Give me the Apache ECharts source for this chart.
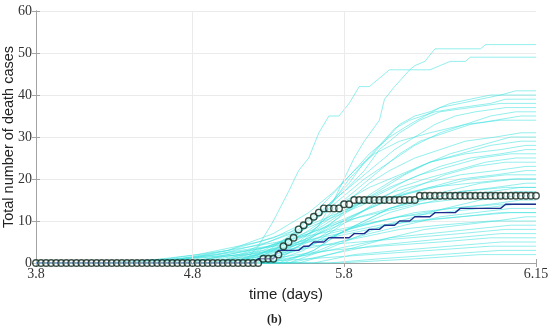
<!DOCTYPE html>
<html>
<head>
<meta charset="utf-8">
<script src="https://cdn.jsdelivr.net/npm/echarts@6/dist/echarts.min.js"></script>
<style>
html,body{margin:0;padding:0;background:#fff;}
#chart{width:550px;height:326px;}
</style>
</head>
<body>
<div id="chart"></div>
<script>
// x axis: day index counted from 3.8 (March 8); ticks at dates
const tickDays = [0, 31, 61, 99];
const tickLabels = ['3.8', '4.8', '5.8', '6.15'];
const gridDays = [31, 61];
const yTicks = [0, 10, 20, 30, 40, 50, 60];

// observed cumulative deaths (one value per day, days 0..99)
const observed = [
  0,0,0,0,0,0,0,0,0,0,
  0,0,0,0,0,0,0,0,0,0,
  0,0,0,0,0,0,0,0,0,0,
  0,0,0,0,0,0,0,0,0,0,
  0,0,0,0,0,1,1,1,2,4,
  5,6,8,9,10,11,12,13,13,13,
  13,14,14,15,15,15,15,15,15,15,
  15,15,15,15,15,15,16,16,16,16,
  16,16,16,16,16,16,16,16,16,16,
  16,16,16,16,16,16,16,16,16,16
];

// dark blue simulated trajectory (one value per day)
const highlightedRun = [
  0,0,0,0,0,0,0,0,0,0,
  0,0,0,0,0,0,0,0,0,0,
  0,0,0,0,0,0,0,0,0,0,
  0,0,0,0,0,0,0,0,0,0,
  0,0,0,0,1,1,1,1,3,3,
  3,3,3,4,4,5,5,5,6,6,
  6,6,6,7,7,7,8,8,8,9,
  9,9,10,10,10,11,11,11,11,12,
  12,12,12,12,13,13,13,13,13,13,
  13,13,13,14,14,14,14,14,14,14
];

// cyan simulated trajectories, as [day, deaths] points
const simRuns = [
  [[0,0],[41,0],[44,4],[47,10],[50,17],[52,22],[54,25],[56,31],[58,35],[60,35],[62,38],[64,42],[66,42],[68,44],[70,46],[74,46],[75,47],[77,48],[79,51],[88,51],[89,52],[99,52]],
  [[0,0],[47,0],[52,4],[56,9],[59,15],[61,20],[63,25],[65,29],[68,34],[69,39],[71,42],[74,46],[78,46],[80,47],[82,48],[85,48],[86,49],[99,49]],
  [[0,0],[38,0],[46,3],[52,8],[56,13],[60,18],[63,22],[66,26],[70,30],[74,33],[77,35],[80,37],[84,38],[88,39],[92,40],[95,41],[99,41]],
  [[0,0],[35,0],[44,3],[50,6],[55,10],[59,15],[62,20],[66,25],[69,29],[72,33],[75,35],[78,36],[82,38],[86,39],[90,40],[99,40]],
  [[0,0],[40,0],[48,4],[54,9],[58,14],[62,19],[65,24],[68,28],[71,32],[74,34],[79,36],[84,37],[90,38],[93,39],[99,39]],
  [[0,0],[30,0],[42,3],[50,7],[56,12],[61,17],[65,22],[68,27],[72,31],[76,34],[80,36],[86,37],[92,38],[99,38]],
  [[0,0],[42,0],[50,5],[55,10],[60,16],[64,20],[67,23],[71,27],[75,30],[79,33],[83,35],[87,36],[93,37],[99,37]],
  [[0,0],[36,0],[45,3],[52,7],[57,12],[61,16],[65,20],[70,24],[75,28],[80,31],[85,33],[90,35],[95,36],[99,36]],
  [[0,0],[44,0],[51,4],[56,9],[60,14],[64,18],[68,22],[72,26],[76,29],[81,31],[86,33],[91,34],[96,35],[99,35]],
  [[0,0],[26,0],[38,3],[47,7],[54,12],[59,17],[63,22],[67,26],[72,29],[78,31],[85,33],[92,34],[99,34]],
  [[0,0],[38,0],[47,3],[53,7],[58,11],[62,15],[66,19],[70,22],[75,25],[80,27],[85,29],[91,30],[96,31],[99,31]],
  [[0,0],[33,0],[44,2],[51,5],[57,9],[62,13],[67,17],[71,20],[76,23],[82,26],[88,28],[94,30],[99,30]],
  [[0,0],[45,0],[52,4],[57,8],[61,12],[65,15],[69,18],[73,21],[78,24],[84,26],[90,28],[96,29],[99,29]],
  [[0,0],[24,0],[38,3],[47,6],[54,10],[60,14],[66,18],[72,21],[78,24],[85,26],[92,27],[97,28],[99,28]],
  [[0,0],[40,0],[48,3],[54,6],[59,10],[64,14],[69,17],[74,20],[80,23],[86,25],[92,26],[97,27],[99,27]],
  [[0,0],[28,0],[40,2],[49,5],[55,8],[60,12],[65,15],[70,18],[76,21],[82,23],[88,25],[94,26],[99,26]],
  [[0,0],[46,0],[53,3],[58,7],[63,11],[68,15],[72,18],[77,20],[83,22],[89,24],[95,25],[99,25]],
  [[0,0],[37,0],[46,2],[53,5],[59,9],[64,12],[69,15],[75,18],[81,21],[87,23],[93,24],[99,24]],
  [[0,0],[22,0],[36,2],[46,5],[53,8],[59,11],[65,14],[71,17],[77,19],[84,21],[91,22],[97,23],[99,23]],
  [[0,0],[42,0],[50,3],[56,6],[61,10],[66,13],[72,16],[78,18],[84,20],[91,21],[97,22],[99,22]],
  [[0,0],[25,0],[38,2],[47,4],[54,7],[60,10],[66,13],[72,16],[79,18],[86,20],[93,21],[99,21]],
  [[0,0],[48,0],[55,3],[60,7],[65,10],[70,13],[75,15],[81,17],[88,19],[95,20],[99,20]],
  [[0,0],[18,0],[32,2],[44,5],[52,8],[58,11],[64,14],[71,16],[78,18],[86,19],[94,20],[99,20]],
  [[0,0],[34,0],[45,2],[52,5],[58,8],[64,11],[70,13],[77,15],[84,17],[91,18],[97,19],[99,19]],
  [[0,0],[43,0],[52,3],[58,6],[64,9],[70,12],[76,14],[83,16],[90,17],[96,18],[99,18]],
  [[0,0],[49,0],[55,3],[60,7],[65,10],[70,13],[76,15],[84,17],[93,18],[99,18]],
  [[0,0],[20,0],[35,2],[46,4],[54,7],[61,10],[68,12],[75,14],[82,15],[89,16],[95,17],[99,17]],
  [[0,0],[50,0],[57,3],[63,6],[69,9],[75,11],[81,13],[88,15],[95,16],[99,16]],
  [[0,0],[39,0],[49,2],[56,5],[62,8],[68,10],[75,12],[82,13],[90,14],[96,15],[99,15]],
  [[0,0],[30,0],[42,2],[51,4],[58,7],[65,9],[72,11],[80,12],[88,13],[95,14],[99,14]],
  [[0,0],[14,0],[26,1],[38,3],[48,5],[56,7],[64,9],[72,11],[82,13],[92,14],[99,14]],
  [[0,0],[46,0],[54,2],[60,5],[66,7],[73,9],[80,11],[87,12],[94,13],[99,13]],
  [[0,0],[16,0],[30,1],[42,3],[52,5],[60,7],[68,9],[76,10],[84,11],[92,12],[99,12]],
  [[0,0],[28,0],[40,2],[50,4],[58,6],[66,8],[74,10],[84,11],[94,12],[99,12]],
  [[0,0],[52,0],[58,2],[64,4],[70,6],[77,8],[84,9],[91,10],[97,11],[99,11]],
  [[0,0],[36,0],[47,2],[56,4],[64,6],[72,8],[80,9],[90,10],[99,10]],
  [[0,0],[44,0],[54,2],[62,4],[70,6],[78,7],[86,8],[94,9],[99,9]],
  [[0,0],[12,0],[28,1],[42,2],[54,4],[64,5],[74,6],[84,7],[93,8],[99,8]],
  [[0,0],[50,0],[58,2],[66,4],[74,5],[83,6],[92,7],[99,7]],
  [[0,0],[32,0],[46,1],[58,3],[68,4],[80,5],[90,6],[99,6]],
  [[0,0],[55,0],[63,2],[72,3],[82,4],[92,5],[99,5]],
  [[0,0],[40,0],[54,1],[66,2],[78,3],[90,4],[99,4]],
  [[0,0],[58,0],[68,1],[80,2],[92,3],[99,3]],
  [[0,0],[60,0],[75,1],[88,2],[99,2]]
];

const days = observed.map((_, i) => i);

const axisGray = '#a3a3a3';
const labelFont = 'Liberation Serif';

const series = [];
series.push({
  type: 'scatter', data: [], silent: true, z: 0,
  markLine: {
    silent: true, symbol: 'none', label: { show: false }, animation: false,
    lineStyle: { color: '#ebebeb', type: 'solid', width: 1 },
    data: gridDays.map(d => ({ xAxis: d }))
  }
});
simRuns.forEach(run => {
  series.push({
    type: 'line', data: run, symbol: 'none', showSymbol: false, silent: true, z: 1,
    lineStyle: { color: 'rgba(60,226,222,0.55)', width: 1 }
  });
});
series.push({
  type: 'line', data: days.map((d, i) => [d, highlightedRun[i]]),
  symbol: 'none', showSymbol: false, silent: true, z: 3,
  lineStyle: { color: '#1f2e8c', width: 1.4 }
});
series.push({
  type: 'scatter', data: days.map((d, i) => [d, observed[i]]),
  symbol: 'circle', symbolSize: 6.5, silent: true, z: 5,
  itemStyle: { color: 'rgba(255,255,255,0.55)', borderColor: '#10281e', borderWidth: 1.4 }
});

const chart = echarts.init(document.getElementById('chart'), null, { renderer: 'canvas' });
chart.setOption({
  animation: false,
  backgroundColor: '#fff',
  title: {
    text: '(b)', left: 262, top: 309,
    textStyle: { fontFamily: labelFont, fontWeight: 'bold', fontSize: 12, color: '#222' }
  },
  grid: { left: 36, right: 14, top: 11, bottom: 63, containLabel: false, outerBoundsMode: 'none' },
  xAxis: [
    {
      type: 'value', min: tickDays[0], max: tickDays[tickDays.length - 1], position: 'bottom',
      name: 'time (days)', nameLocation: 'middle', nameGap: 24, nameMoveOverlap: false,
      nameTextStyle: { fontFamily: 'Liberation Sans', fontSize: 15, color: '#222' },
      axisLine: { show: true, lineStyle: { color: axisGray } },
      axisTick: { show: true, inside: true, length: 4, customValues: tickDays, lineStyle: { color: axisGray } },
      axisLabel: {
        customValues: tickDays, margin: 4,
        formatter: v => { const k = tickDays.indexOf(v); return k >= 0 ? tickLabels[k] : ''; },
        fontFamily: labelFont, fontSize: 14, color: '#333'
      },
      splitLine: { show: false }
    },
    {
      type: 'value', min: tickDays[0], max: tickDays[tickDays.length - 1], position: 'top',
      axisLine: { show: true, lineStyle: { color: axisGray } },
      axisTick: { show: true, inside: true, length: 4, customValues: tickDays, lineStyle: { color: axisGray } },
      axisLabel: { show: false }, splitLine: { show: false }
    }
  ],
  yAxis: [
    {
      type: 'value', min: yTicks[0], max: yTicks[yTicks.length - 1], interval: 10,
      name: 'Total number of death cases', nameLocation: 'middle', nameGap: 20, nameMoveOverlap: false,
      nameTextStyle: { fontFamily: 'Liberation Sans', fontSize: 14.5, color: '#222' },
      axisLine: { show: true, lineStyle: { color: axisGray } },
      axisTick: { show: true, inside: true, length: 4, lineStyle: { color: axisGray } },
      axisLabel: { margin: 4, fontFamily: labelFont, fontSize: 14, color: '#333' },
      splitLine: { show: true, lineStyle: { color: '#ebebeb', width: 1 } }
    },
    {
      type: 'value', min: yTicks[0], max: yTicks[yTicks.length - 1], interval: 10, position: 'right',
      axisLine: { show: true, lineStyle: { color: axisGray } },
      axisTick: { show: true, inside: true, length: 4, lineStyle: { color: axisGray } },
      axisLabel: { show: false }, splitLine: { show: false }
    }
  ],
  series: series
});
</script>
</body>
</html>
